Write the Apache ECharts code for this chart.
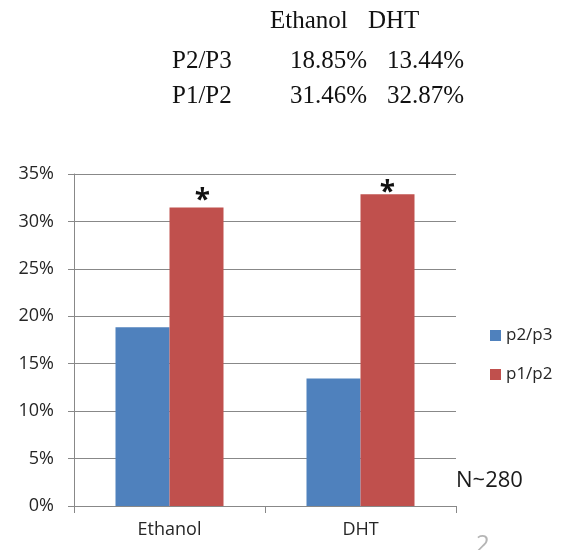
<!DOCTYPE html>
<html>
<head>
<meta charset="utf-8">
<script src="https://cdn.jsdelivr.net/npm/echarts@6/dist/echarts.min.js"></script>
<style>
  html, body { margin: 0; padding: 0; background: #fff; }
  #chart { width: 576px; height: 550px; }
</style>
</head>
<body>
<div id="chart"></div>
<script>
// ---- data ----
const categories = ['Ethanol', 'DHT'];
const seriesNames = ['p2/p3', 'p1/p2'];
const tableRowLabels = ['P2/P3', 'P1/P2'];
const p2p3 = [18.85, 13.44];
const p1p2 = [31.46, 32.87];
const significance = ['*', '*'];
const yMin = 0, yMax = 35, yStep = 5;
const sampleNote = 'N~280';
const slideNumber = '2';

// ---- styling ----
const BLUE = '#4F81BD', RED = '#C0504D', GRID = '#888888';
const SANS = '"Open Sans", "Noto Sans", sans-serif';
const SERIF = '"Liberation Serif", "DejaVu Serif", serif';

const chart = echarts.init(document.getElementById('chart'), null, { renderer: 'canvas' });

// table text (built from the data arrays)
const tableFont = { fontFamily: SERIF, fontSize: 25, fill: '#111' };
const colX = [290, 387];
const headerX = [270, 368];
const rowTop = [49, 84];
const graphics = [];
categories.forEach((c, i) => {
  graphics.push({ type: 'text', left: headerX[i], top: 9, style: Object.assign({ text: c }, tableFont) });
});
[p2p3, p1p2].forEach((arr, r) => {
  graphics.push({ type: 'text', left: 172, top: rowTop[r], style: Object.assign({ text: tableRowLabels[r] }, tableFont) });
  arr.forEach((v, i) => {
    graphics.push({ type: 'text', left: colX[i], top: rowTop[r], style: Object.assign({ text: v.toFixed(2) + '%' }, tableFont) });
  });
});
graphics.push({ type: 'text', left: 456, top: 470, style: { text: sampleNote, fontFamily: SANS, fontSize: 22, fill: '#1a1a1a' } });
graphics.push({ type: 'text', left: 476, top: 533, style: { text: slideNumber, fontFamily: SANS, fontSize: 24, fill: '#b5b5b5' } });

const sigOffsets = [[6, 0], [0, 0]];
const sigDistance = [-7, -13];

chart.setOption({
  animation: false,
  backgroundColor: '#ffffff',
  textStyle: { fontFamily: SANS },
  grid: { left: 74, right: 120, top: 174, bottom: 44, containLabel: false },
  legend: {
    data: seriesNames,
    orient: 'vertical',
    left: 485,
    top: 322,
    itemWidth: 11,
    itemHeight: 11,
    itemGap: 22,
    icon: 'rect',
    textStyle: { fontFamily: SANS, fontSize: 17, color: '#262626' }
  },
  xAxis: {
    type: 'category',
    data: categories,
    axisLine: { lineStyle: { color: GRID, width: 1 } },
    axisTick: { show: true, length: 7, lineStyle: { color: GRID } },
    axisLabel: { fontFamily: SANS, fontSize: 18, color: '#262626', margin: 15 }
  },
  yAxis: {
    type: 'value',
    min: yMin, max: yMax, interval: yStep,
    axisLine: { show: true, lineStyle: { color: GRID, width: 1 } },
    axisTick: { show: true, length: 6, lineStyle: { color: GRID } },
    splitLine: { lineStyle: { color: GRID, width: 1 } },
    axisLabel: { formatter: '{value}%', fontFamily: SANS, fontSize: 18, color: '#262626', margin: 20 }
  },
  series: [
    {
      name: seriesNames[0],
      type: 'bar',
      data: p2p3,
      itemStyle: { color: BLUE },
      barWidth: 54,
      barGap: '0%'
    },
    {
      name: seriesNames[1],
      type: 'bar',
      data: p1p2.map((v, i) => ({
        value: v,
        label: { show: true, position: 'top', formatter: significance[i], distance: sigDistance[i], offset: sigOffsets[i] }
      })),
      itemStyle: { color: RED },
      barWidth: 54,
      barGap: '0%',
      label: { fontFamily: SANS, fontSize: 28, fontWeight: 'bold', color: '#111' }
    }
  ],
  graphic: graphics
});
</script>
</body>
</html>
